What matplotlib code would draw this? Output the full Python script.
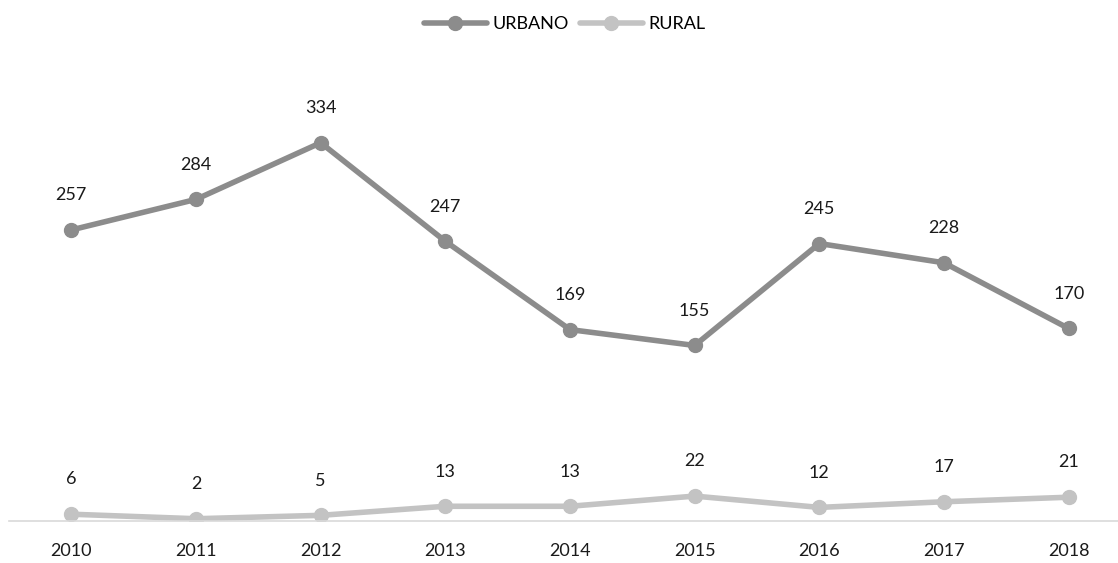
import matplotlib.pyplot as plt

plt.rcParams['font.family'] = ['Lato', 'DejaVu Sans']

years = ['2010', '2011', '2012', '2013', '2014', '2015', '2016', '2017', '2018']
urbano = [257, 284, 334, 247, 169, 155, 245, 228, 170]
rural = [6, 2, 5, 13, 13, 22, 12, 17, 21]

W, H = 1118, 563
fig = plt.figure(figsize=(W / 100, H / 100), dpi=100)
ax = fig.add_axes([9 / W, 42 / H, 1122 / W, 453 / H])

x = list(range(len(years)))
ax.plot(x, urbano, color='#8c8c8c', lw=4, marker='o', ms=10, label='URBANO', solid_capstyle='round')
ax.plot(x, rural, color='#c3c3c3', lw=4, marker='o', ms=10, label='RURAL', solid_capstyle='round')

# etiquetas de datos encima de cada punto
for i in x:
    ax.annotate(str(urbano[i]), (i, urbano[i]), xytext=(0, 25), textcoords='offset points',
                ha='center', va='center', fontsize=13, color='#1a1a1a')
    ax.annotate(str(rural[i]), (i, rural[i]), xytext=(0, 25), textcoords='offset points',
                ha='center', va='center', fontsize=13, color='#1a1a1a')

ax.set_xlim(-0.5, len(years) - 0.5)
ax.set_ylim(0, 400)
ax.set_xticks(x)
ax.set_xticklabels(years, fontsize=13, color='#1a1a1a')
ax.set_yticks([])
ax.tick_params(axis='x', length=0, pad=16)
for s in ['top', 'right', 'left']:
    ax.spines[s].set_visible(False)
ax.spines['bottom'].set_color('#d9d9d9')
ax.spines['bottom'].set_linewidth(1.2)

fig.legend(loc='upper center', bbox_to_anchor=(0.505, 1.0), ncol=2, frameon=False,
           fontsize=13, handlelength=3.5, columnspacing=0.6, handletextpad=0.3)

plt.savefig('out.png', dpi=100)
